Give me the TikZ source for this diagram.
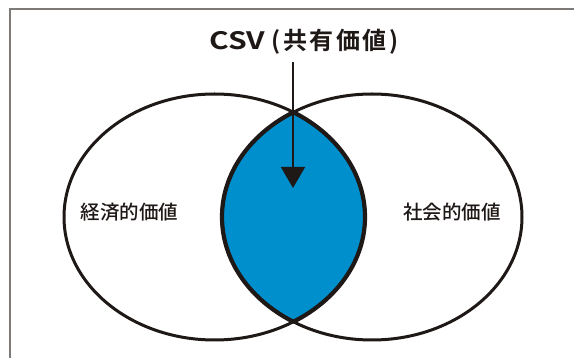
\documentclass[tikz,border=0pt]{standalone}
\usepackage{fontspec}
\usepackage{graphicx}
\setmainfont{Noto Sans CJK JP Medium}
\newfontfamily\jpb{Noto Sans CJK JP Bold}
\newfontfamily\jpbs[LetterSpace=11]{Noto Sans CJK JP Bold}
\usetikzlibrary{arrows.meta}
\definecolor{csvblue}{RGB}{0,143,205}
\definecolor{ink}{RGB}{30,24,22}
\definecolor{framegray}{RGB}{125,122,120}
\begin{document}
\begin{tikzpicture}[x=1pt,y=-1pt,
  ring/.style={draw=ink,line width=3pt},
  lensline/.style={draw=ink,line width=4.2pt},
  label/.style={font=\fontsize{19.5}{19.5}\selectfont,text=ink,inner sep=0pt},
  title/.style={font=\jpb\fontsize{24}{24}\selectfont,text=ink,inner sep=0pt}]
\useasboundingbox (0,0) rectangle (574,358);
\fill[white] (0,0) rectangle (574,358);
\draw[framegray,line width=1.4pt] (10,372) -- (10,9) -- (590,9);
% lens
\begin{scope}
  \clip (214.5,217) ellipse [x radius=150.5, y radius=123];
  \fill[csvblue] (372,217) ellipse [x radius=150, y radius=123];
\end{scope}
\begin{scope}
  \clip (214.5,217) ellipse [x radius=150.5, y radius=123];
  \draw[lensline] (372,217) ellipse [x radius=150, y radius=123];
\end{scope}
\begin{scope}
  \clip (372,217) ellipse [x radius=150, y radius=123];
  \draw[lensline] (214.5,217) ellipse [x radius=150.5, y radius=123];
\end{scope}
\draw[ring] (214.5,217) ellipse [x radius=150.5, y radius=123];
\draw[ring] (372,217) ellipse [x radius=150, y radius=123];
\node[title] (t) at (304,42) {\scalebox{1.25}[1]{CSV}\hspace{6pt}{\jpbs(共有価値)}};
\coordinate (tip) at (293,188);
\draw[ink,line width=1.8pt,-{Triangle[width=24pt,length=21pt]}] (293,62) -- (tip);
\node[label] (l) at (129.5,212) {経済的価値};
\node[label] (r) at (452,212) {社会的価値};
\end{tikzpicture}
\end{document}
